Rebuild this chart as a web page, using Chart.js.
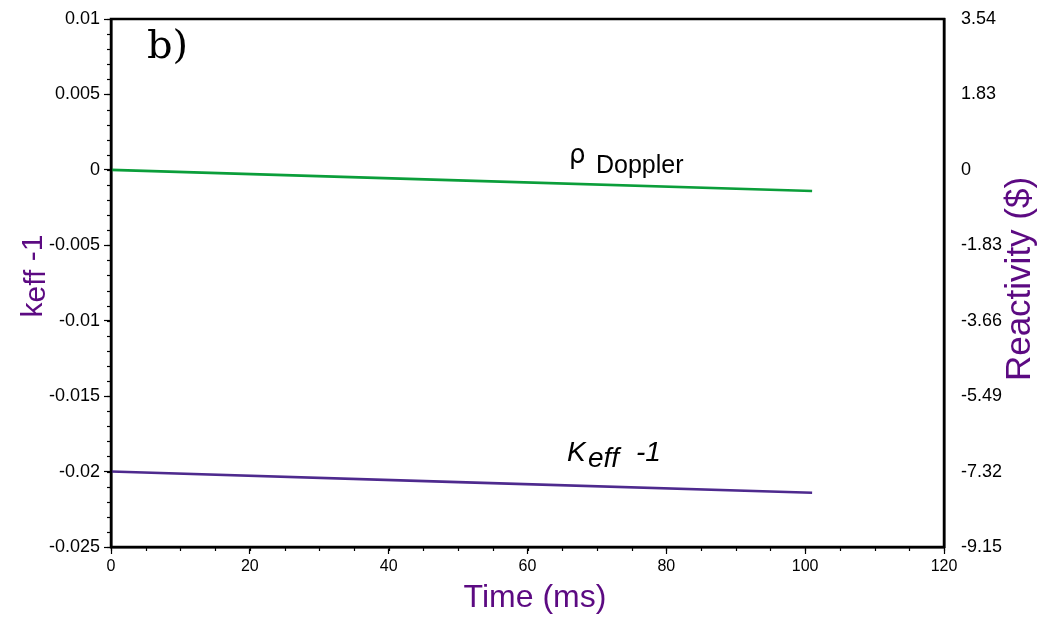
<!DOCTYPE html>
<html>
<head>
<meta charset="utf-8">
<script src="https://cdn.jsdelivr.net/npm/chart.js@4.4.0/dist/chart.umd.min.js"></script>
<style>
  html, body { margin: 0; padding: 0; background: #fff; }
  #wrap { width: 1038px; height: 618px; position: relative; }
</style>
</head>
<body>
<div id="wrap"><canvas id="chart"></canvas></div>
<script>
// Time axis (ms) and the two reactivity curves
const timeMs = [0, 50, 101];
const rhoDoppler = [0, -0.0007, -0.0014];
const keffMinus1 = [-0.02, -0.0207, -0.0214];

const leftTicks = [0.01, 0.005, 0, -0.005, -0.01, -0.015, -0.02, -0.025];
const leftLabels = ['0.01', '0.005', '0', '-0.005', '-0.01', '-0.015', '-0.02', '-0.025'];
const rightLabels = ['3.54', '1.83', '0', '-1.83', '-3.66', '-5.49', '-7.32', '-9.15'];

const green = '#0b9e3a';
const purple = '#4e2a8e';
const titlePurple = '#5c0a82';
const FONT = "'Liberation Sans', Arial, sans-serif";

const area = { left: 111, right: 944, top: 19, bottom: 547 };

const frame = {
  id: 'frame',
  afterDraw(chart) {
    const { ctx, chartArea: a, scales } = chart;
    ctx.save();
    // minor ticks
    ctx.strokeStyle = '#000';
    ctx.lineWidth = 1.2;
    for (let i = -25; i <= 10; i++) {
      const y = Math.round(scales.y.getPixelForValue(i / 1000)) + 0.5;
      ctx.beginPath(); ctx.moveTo(a.left - 4, y); ctx.lineTo(a.left, y); ctx.stroke();
    }
    for (let i = 0; i <= 24; i++) {
      const x = Math.round(scales.x.getPixelForValue(i * 5)) + 0.5;
      ctx.beginPath(); ctx.moveTo(x, a.bottom); ctx.lineTo(x, a.bottom + 4); ctx.stroke();
    }
    // box
    ctx.lineWidth = 2.5;
    ctx.strokeRect(a.left, a.top, a.right - a.left, a.bottom - a.top);

    // panel label
    ctx.fillStyle = '#000';
    ctx.font = "40px 'DejaVu Serif', 'Liberation Serif', serif";
    ctx.textBaseline = 'alphabetic';
    ctx.textAlign = 'left';
    ctx.fillText('b)', 147, 58);

    // curve labels
    ctx.font = "26px 'DejaVu Sans', sans-serif";
    ctx.fillText('\u03c1', 569, 163);
    ctx.font = '25px ' + FONT;
    ctx.fillText('Doppler', 596, 173);

    ctx.font = 'italic 28px ' + FONT;
    ctx.fillText('K', 567, 461);
    ctx.fillText('eff', 588, 467);
    ctx.fillText('-1', 636, 461);

    // axis titles
    ctx.fillStyle = titlePurple;
    ctx.textAlign = 'center';
    ctx.font = '32px ' + FONT;
    ctx.fillText('Time (ms)', 535, 607);

    ctx.save();
    ctx.translate(1030, 279);
    ctx.rotate(-Math.PI / 2);
    ctx.font = '35px ' + FONT;
    ctx.fillText('Reactivity ($)', 0, 0);
    ctx.restore();

    ctx.save();
    ctx.translate(42, 276);
    ctx.rotate(-Math.PI / 2);
    ctx.textAlign = 'left';
    ctx.font = '30px ' + FONT;
    const w = ctx.measureText('keff -1').width;
    let x = -w / 2;
    ctx.fillText('k', x, 0);
    x += ctx.measureText('k').width;
    ctx.fillText('eff', x, 3);
    x += ctx.measureText('eff').width;
    ctx.fillText(' -1', x, 0);
    ctx.restore();

    ctx.restore();
  }
};

new Chart(document.getElementById('chart'), {
  type: 'line',
  data: {
    datasets: [
      {
        label: 'rho Doppler',
        data: timeMs.map((t, i) => ({ x: t, y: rhoDoppler[i] })),
        borderColor: green,
        borderWidth: 2.6,
        pointRadius: 0,
        tension: 0
      },
      {
        label: 'keff - 1',
        data: timeMs.map((t, i) => ({ x: t, y: keffMinus1[i] })),
        borderColor: purple,
        borderWidth: 2.6,
        pointRadius: 0,
        tension: 0
      }
    ]
  },
  options: {
    responsive: true,
    maintainAspectRatio: false,
    animation: false,
    layout: { padding: { top: area.top, left: 0, right: 0, bottom: 0 } },
    plugins: { legend: { display: false }, tooltip: { enabled: false } },
    scales: {
      x: {
        type: 'linear',
        min: 0, max: 120,
        ticks: { stepSize: 20, color: '#000', font: { family: FONT, size: 16 }, padding: 3, maxRotation: 0 },
        grid: { drawOnChartArea: false, tickLength: 7, tickColor: '#000', tickWidth: 1.2 },
        border: { color: '#000', width: 2.5 },
        afterFit(s) { s.height = 618 - area.bottom; s.paddingLeft = 0; s.paddingRight = 0; }
      },
      y: {
        type: 'linear',
        position: 'left',
        min: -0.025, max: 0.01,
        afterBuildTicks(s) { s.ticks = leftTicks.map(v => ({ value: v })); },
        ticks: {
          color: '#000', font: { family: FONT, size: 18 }, padding: 4,
          callback: (v) => leftLabels[leftTicks.findIndex(t => Math.abs(t - v) < 1e-9)]
        },
        grid: { drawOnChartArea: false, tickLength: 7, tickColor: '#000', tickWidth: 1.2 },
        border: { color: '#000', width: 2.5 },
        afterFit(s) { s.width = area.left; s.paddingTop = 0; s.paddingBottom = 0; }
      },
      y2: {
        type: 'linear',
        position: 'right',
        min: -0.025, max: 0.01,
        afterBuildTicks(s) { s.ticks = leftTicks.map(v => ({ value: v })); },
        ticks: {
          color: '#000', font: { family: FONT, size: 18 }, padding: 17,
          callback: (v) => rightLabels[leftTicks.findIndex(t => Math.abs(t - v) < 1e-9)]
        },
        grid: { drawOnChartArea: false, drawTicks: false },
        border: { color: '#000', width: 2.5 },
        afterFit(s) { s.width = 1038 - area.right; s.paddingTop = 0; s.paddingBottom = 0; }
      }
    }
  },
  plugins: [frame]
});
</script>
</body>
</html>
